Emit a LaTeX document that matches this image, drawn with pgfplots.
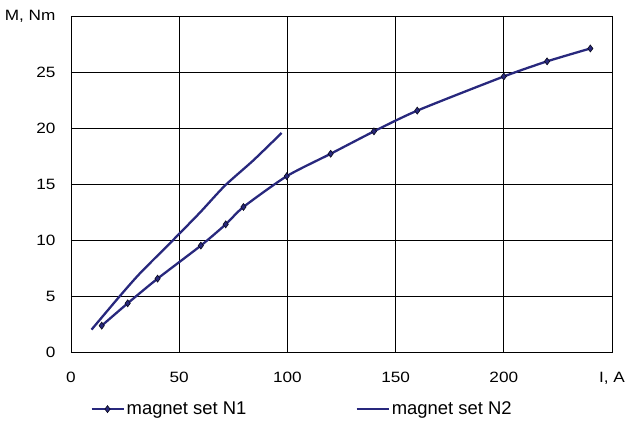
\documentclass[border=0pt]{standalone}
\usepackage{fontspec}
\setmainfont{Liberation Sans}
\usepackage{pgfplots}
\pgfplotsset{compat=1.18}
\definecolor{navy}{RGB}{40,40,125}
\begin{document}
\begin{tikzpicture}
\useasboundingbox (-71bp,-69bp) rectangle (558bp,352bp);
\begin{axis}[
  scale only axis,
  width=541bp, height=336bp,
  xmin=0, xmax=250, ymin=0, ymax=30,
  xtick={0,50,100,150,200,250},
  xticklabels={0,50,100,150,200,{I, A}},
  ytick={0,5,10,15,20,25,30},
  yticklabels={0,5,10,15,20,25,{M, Nm}},
  major tick length=0pt,
  grid=major,
  major grid style={black, line width=0.9pt},
  axis line style={black, line width=0.9pt},
  tick label style={font=\fontsize{15}{18}\selectfont, xscale=1.15},
  xticklabel style={yshift=-17bp},
  yticklabel style={xshift=-10bp},
  legend columns=2,
  legend style={at={(0.427,-0.17)}, anchor=center, draw=none, fill=none,
    font=\fontsize{18.5}{22}\selectfont,
    /tikz/every even column/.append style={column sep=107bp}},
  legend cell align=left,
  legend image code/.code={\draw[mark repeat=2,mark phase=2,#1]
    plot coordinates {(0bp,0bp) (16bp,0bp) (32bp,0bp)};},
]
\addplot[navy, line width=2.3pt, smooth, tension=0.4, mark=diamond*, mark size=3.5pt,
  mark options={fill=navy, draw=black!80!navy, line width=0.6pt}]
  coordinates {(14.2,2.35) (26.2,4.35) (40,6.55) (60,9.5) (71.5,11.4) (79.7,12.95)
  (99.7,15.7) (120,17.7) (140,19.7) (160,21.55) (200,24.6) (220,25.95) (240,27.1)};
\addlegendentry{magnet set N1}
\addplot[navy, line width=2.3pt, smooth, tension=0.4]
  coordinates {(9.5,2) (22.6,5) (32,7.05) (47.2,10) (59.6,12.45) (71.1,14.85) (84.2,17.1) (97.3,19.55)};
\addlegendentry{magnet set N2}
\end{axis}
\end{tikzpicture}
\end{document}
